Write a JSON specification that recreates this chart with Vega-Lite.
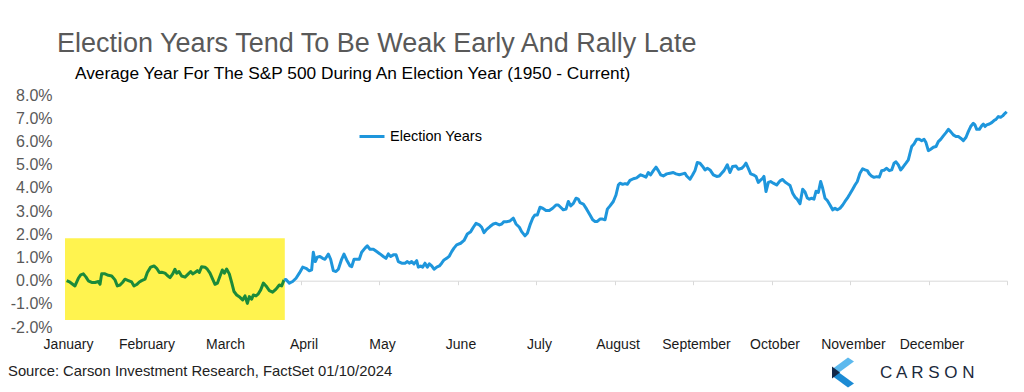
{
  "$schema": "https://vega.github.io/schema/vega-lite/v6.json",
  "width": 942,
  "height": 232,
  "autosize": {"type": "none"},
  "padding": {"left": 65, "top": 95, "right": 17, "bottom": 65},
  "background": "white",
  "config": {
    "view": {"stroke": null},
    "font": "Liberation Sans",
    "axisX": {
      "tickCount": 12,
      "labelExpr": "['January','February','March','April','May','June','July','August','September','October','November','December',''][round(datum.value)]",
      "offset": -46.3, "domainColor": "#d9d9d9", "tickColor": "#d9d9d9", "tickSize": 4,
      "labelPadding": 53, "labelFontSize": 14, "labelColor": "#1a1a1a", "labelFont": "Liberation Sans",
      "labelFlush": false, "labelOverlap": false, "labelBound": false, "labelOffset": 3, "grid": false
    },
    "axisY": {
      "tickCount": 10,
      "labelExpr": "(datum.value < 0 ? '-' : '') + format(abs(datum.value), '.1f') + '%'",
      "domain": false, "ticks": false, "grid": false, "labelPadding": 13, "labelOverlap": false, "labelBound": false,
      "labelFontSize": 16, "labelColor": "#595959", "labelFont": "Liberation Sans"
    }
  },
  "title": {
    "text": "Election Years Tend To Be Weak Early And Rally Late",
    "anchor": "start",
    "frame": "group",
    "dx": -8,
    "offset": 6.8,
    "font": "Liberation Sans",
    "fontSize": 27,
    "fontWeight": "normal",
    "color": "#595959"
  },
  "datasets": {
    "box": [{"start": 0, "end": 2.8, "low": -1.7, "high": 1.83}],
    "heading": [{"label": "Average Year For The S&P 500 During An Election Year (1950 - Current)"}],
    "notes": [{"label": "Source: Carson Investment Research, FactSet 01/10/2024"}],
    "brand": [{"label": "C A R S O N"}],
    "logo": [{"part": "upper"}, {"part": "lower"}, {"part": "tip"}],
    "series": [
      {"t":0.021,"v":0.00,"s":"Early"},{"t":0.064,"v":-0.07,"s":"Early"},{"t":0.127,"v":-0.23,"s":"Early"},{"t":0.170,"v":0.10,"s":"Early"},{"t":0.200,"v":0.25,"s":"Early"},{"t":0.234,"v":0.29,"s":"Early"},{"t":0.268,"v":0.15,"s":"Early"},{"t":0.297,"v":-0.01,"s":"Early"},{"t":0.340,"v":-0.08,"s":"Early"},{"t":0.382,"v":-0.08,"s":"Early"},{"t":0.425,"v":-0.04,"s":"Early"},{"t":0.446,"v":-0.16,"s":"Early"},{"t":0.467,"v":0.29,"s":"Early"},{"t":0.510,"v":0.29,"s":"Early"},{"t":0.552,"v":0.23,"s":"Early"},{"t":0.595,"v":0.20,"s":"Early"},{"t":0.637,"v":0.03,"s":"Early"},{"t":0.667,"v":-0.23,"s":"Early"},{"t":0.701,"v":-0.19,"s":"Early"},{"t":0.735,"v":-0.07,"s":"Early"},{"t":0.764,"v":0.06,"s":"Early"},{"t":0.807,"v":0.00,"s":"Early"},{"t":0.849,"v":-0.06,"s":"Early"},{"t":0.879,"v":-0.23,"s":"Early"},{"t":0.913,"v":-0.17,"s":"Early"},{"t":0.947,"v":-0.06,"s":"Early"},{"t":0.977,"v":0.00,"s":"Early"},{"t":1.019,"v":0.06,"s":"Early"},{"t":1.049,"v":0.35,"s":"Early"},{"t":1.091,"v":0.58,"s":"Early"},{"t":1.134,"v":0.63,"s":"Early"},{"t":1.168,"v":0.53,"s":"Early"},{"t":1.202,"v":0.35,"s":"Early"},{"t":1.231,"v":0.36,"s":"Early"},{"t":1.274,"v":0.32,"s":"Early"},{"t":1.304,"v":0.22,"s":"Early"},{"t":1.338,"v":0.13,"s":"Early"},{"t":1.372,"v":0.29,"s":"Early"},{"t":1.401,"v":0.49,"s":"Early"},{"t":1.423,"v":0.32,"s":"Early"},{"t":1.452,"v":0.39,"s":"Early"},{"t":1.486,"v":0.20,"s":"Early"},{"t":1.529,"v":0.15,"s":"Early"},{"t":1.571,"v":0.29,"s":"Early"},{"t":1.601,"v":0.39,"s":"Early"},{"t":1.626,"v":0.29,"s":"Early"},{"t":1.656,"v":0.35,"s":"Early"},{"t":1.686,"v":0.43,"s":"Early"},{"t":1.711,"v":0.35,"s":"Early"},{"t":1.741,"v":0.60,"s":"Early"},{"t":1.783,"v":0.58,"s":"Early"},{"t":1.813,"v":0.49,"s":"Early"},{"t":1.847,"v":0.32,"s":"Early"},{"t":1.881,"v":0.06,"s":"Early"},{"t":1.911,"v":-0.16,"s":"Early"},{"t":1.941,"v":-0.11,"s":"Early"},{"t":1.975,"v":0.20,"s":"Early"},{"t":2.004,"v":0.46,"s":"Early"},{"t":2.030,"v":0.32,"s":"Early"},{"t":2.059,"v":0.50,"s":"Early"},{"t":2.093,"v":0.29,"s":"Early"},{"t":2.123,"v":-0.08,"s":"Early"},{"t":2.153,"v":-0.47,"s":"Early"},{"t":2.187,"v":-0.62,"s":"Early"},{"t":2.229,"v":-0.72,"s":"Early"},{"t":2.263,"v":-0.83,"s":"Early"},{"t":2.293,"v":-0.66,"s":"Early"},{"t":2.323,"v":-0.98,"s":"Early"},{"t":2.348,"v":-0.69,"s":"Early"},{"t":2.378,"v":-0.80,"s":"Early"},{"t":2.399,"v":-0.62,"s":"Early"},{"t":2.433,"v":-0.66,"s":"Early"},{"t":2.463,"v":-0.57,"s":"Early"},{"t":2.493,"v":-0.40,"s":"Early"},{"t":2.527,"v":-0.11,"s":"Early"},{"t":2.561,"v":-0.23,"s":"Early"},{"t":2.603,"v":-0.43,"s":"Early"},{"t":2.645,"v":-0.50,"s":"Early"},{"t":2.688,"v":-0.37,"s":"Early"},{"t":2.730,"v":-0.19,"s":"Early"},{"t":2.760,"v":-0.23,"s":"Early"},{"t":2.790,"v":0.03,"s":"Early"},
      {"t":2.790,"v":0.03,"s":"Election Years"},{"t":2.815,"v":0.05,"s":"Election Years"},{"t":2.858,"v":-0.11,"s":"Election Years"},{"t":2.900,"v":-0.04,"s":"Election Years"},{"t":2.943,"v":0.10,"s":"Election Years"},{"t":2.985,"v":0.32,"s":"Election Years"},{"t":3.028,"v":0.58,"s":"Election Years"},{"t":3.070,"v":0.53,"s":"Election Years"},{"t":3.112,"v":0.42,"s":"Election Years"},{"t":3.142,"v":0.46,"s":"Election Years"},{"t":3.163,"v":1.22,"s":"Election Years"},{"t":3.189,"v":0.82,"s":"Election Years"},{"t":3.214,"v":1.01,"s":"Election Years"},{"t":3.248,"v":1.04,"s":"Election Years"},{"t":3.282,"v":0.96,"s":"Election Years"},{"t":3.312,"v":0.92,"s":"Election Years"},{"t":3.355,"v":1.14,"s":"Election Years"},{"t":3.384,"v":0.92,"s":"Election Years"},{"t":3.418,"v":0.43,"s":"Election Years"},{"t":3.452,"v":0.39,"s":"Election Years"},{"t":3.482,"v":0.49,"s":"Election Years"},{"t":3.524,"v":0.92,"s":"Election Years"},{"t":3.554,"v":1.14,"s":"Election Years"},{"t":3.588,"v":0.89,"s":"Election Years"},{"t":3.631,"v":0.63,"s":"Election Years"},{"t":3.652,"v":0.60,"s":"Election Years"},{"t":3.682,"v":0.92,"s":"Election Years"},{"t":3.716,"v":0.92,"s":"Election Years"},{"t":3.749,"v":0.92,"s":"Election Years"},{"t":3.779,"v":1.22,"s":"Election Years"},{"t":3.822,"v":1.40,"s":"Election Years"},{"t":3.851,"v":1.50,"s":"Election Years"},{"t":3.885,"v":1.35,"s":"Election Years"},{"t":3.928,"v":1.35,"s":"Election Years"},{"t":3.970,"v":1.25,"s":"Election Years"},{"t":4.013,"v":1.15,"s":"Election Years"},{"t":4.055,"v":1.04,"s":"Election Years"},{"t":4.089,"v":0.96,"s":"Election Years"},{"t":4.119,"v":1.15,"s":"Election Years"},{"t":4.149,"v":1.04,"s":"Election Years"},{"t":4.183,"v":1.11,"s":"Election Years"},{"t":4.217,"v":1.11,"s":"Election Years"},{"t":4.246,"v":0.82,"s":"Election Years"},{"t":4.289,"v":0.75,"s":"Election Years"},{"t":4.331,"v":0.75,"s":"Election Years"},{"t":4.361,"v":0.82,"s":"Election Years"},{"t":4.386,"v":0.75,"s":"Election Years"},{"t":4.416,"v":0.82,"s":"Election Years"},{"t":4.446,"v":0.72,"s":"Election Years"},{"t":4.480,"v":0.86,"s":"Election Years"},{"t":4.501,"v":0.58,"s":"Election Years"},{"t":4.531,"v":0.63,"s":"Election Years"},{"t":4.556,"v":0.58,"s":"Election Years"},{"t":4.586,"v":0.75,"s":"Election Years"},{"t":4.616,"v":0.58,"s":"Election Years"},{"t":4.641,"v":0.72,"s":"Election Years"},{"t":4.671,"v":0.63,"s":"Election Years"},{"t":4.701,"v":0.49,"s":"Election Years"},{"t":4.735,"v":0.58,"s":"Election Years"},{"t":4.769,"v":0.63,"s":"Election Years"},{"t":4.798,"v":0.75,"s":"Election Years"},{"t":4.828,"v":0.89,"s":"Election Years"},{"t":4.862,"v":0.96,"s":"Election Years"},{"t":4.896,"v":1.06,"s":"Election Years"},{"t":4.926,"v":1.25,"s":"Election Years"},{"t":4.955,"v":1.40,"s":"Election Years"},{"t":4.989,"v":1.54,"s":"Election Years"},{"t":5.040,"v":1.61,"s":"Election Years"},{"t":5.083,"v":1.73,"s":"Election Years"},{"t":5.125,"v":2.01,"s":"Election Years"},{"t":5.168,"v":2.11,"s":"Election Years"},{"t":5.202,"v":2.30,"s":"Election Years"},{"t":5.236,"v":2.47,"s":"Election Years"},{"t":5.278,"v":2.40,"s":"Election Years"},{"t":5.308,"v":2.30,"s":"Election Years"},{"t":5.338,"v":2.07,"s":"Election Years"},{"t":5.372,"v":2.21,"s":"Election Years"},{"t":5.414,"v":2.33,"s":"Election Years"},{"t":5.456,"v":2.44,"s":"Election Years"},{"t":5.490,"v":2.47,"s":"Election Years"},{"t":5.533,"v":2.40,"s":"Election Years"},{"t":5.563,"v":2.44,"s":"Election Years"},{"t":5.592,"v":2.54,"s":"Election Years"},{"t":5.626,"v":2.54,"s":"Election Years"},{"t":5.669,"v":2.57,"s":"Election Years"},{"t":5.711,"v":2.69,"s":"Election Years"},{"t":5.745,"v":2.44,"s":"Election Years"},{"t":5.788,"v":2.30,"s":"Election Years"},{"t":5.817,"v":2.11,"s":"Election Years"},{"t":5.860,"v":1.93,"s":"Election Years"},{"t":5.890,"v":2.04,"s":"Election Years"},{"t":5.924,"v":2.40,"s":"Election Years"},{"t":5.958,"v":2.69,"s":"Election Years"},{"t":5.987,"v":2.83,"s":"Election Years"},{"t":6.017,"v":2.83,"s":"Election Years"},{"t":6.051,"v":3.16,"s":"Election Years"},{"t":6.085,"v":3.12,"s":"Election Years"},{"t":6.127,"v":3.02,"s":"Election Years"},{"t":6.170,"v":3.02,"s":"Election Years"},{"t":6.212,"v":3.12,"s":"Election Years"},{"t":6.255,"v":3.26,"s":"Election Years"},{"t":6.284,"v":3.26,"s":"Election Years"},{"t":6.314,"v":3.16,"s":"Election Years"},{"t":6.348,"v":3.05,"s":"Election Years"},{"t":6.382,"v":3.08,"s":"Election Years"},{"t":6.412,"v":3.41,"s":"Election Years"},{"t":6.442,"v":3.22,"s":"Election Years"},{"t":6.476,"v":3.33,"s":"Election Years"},{"t":6.510,"v":3.55,"s":"Election Years"},{"t":6.539,"v":3.51,"s":"Election Years"},{"t":6.561,"v":3.36,"s":"Election Years"},{"t":6.603,"v":3.30,"s":"Election Years"},{"t":6.645,"v":3.08,"s":"Election Years"},{"t":6.688,"v":2.83,"s":"Election Years"},{"t":6.722,"v":2.62,"s":"Election Years"},{"t":6.752,"v":2.55,"s":"Election Years"},{"t":6.781,"v":2.55,"s":"Election Years"},{"t":6.815,"v":2.65,"s":"Election Years"},{"t":6.849,"v":2.65,"s":"Election Years"},{"t":6.879,"v":2.62,"s":"Election Years"},{"t":6.909,"v":3.08,"s":"Election Years"},{"t":6.943,"v":3.22,"s":"Election Years"},{"t":6.985,"v":3.41,"s":"Election Years"},{"t":7.019,"v":3.69,"s":"Election Years"},{"t":7.049,"v":4.12,"s":"Election Years"},{"t":7.070,"v":4.20,"s":"Election Years"},{"t":7.104,"v":4.15,"s":"Election Years"},{"t":7.134,"v":4.18,"s":"Election Years"},{"t":7.163,"v":4.15,"s":"Election Years"},{"t":7.197,"v":4.32,"s":"Election Years"},{"t":7.240,"v":4.39,"s":"Election Years"},{"t":7.282,"v":4.43,"s":"Election Years"},{"t":7.316,"v":4.52,"s":"Election Years"},{"t":7.333,"v":4.56,"s":"Election Years"},{"t":7.367,"v":4.51,"s":"Election Years"},{"t":7.401,"v":4.46,"s":"Election Years"},{"t":7.431,"v":4.66,"s":"Election Years"},{"t":7.461,"v":4.56,"s":"Election Years"},{"t":7.495,"v":4.74,"s":"Election Years"},{"t":7.529,"v":4.89,"s":"Election Years"},{"t":7.558,"v":4.74,"s":"Election Years"},{"t":7.588,"v":4.56,"s":"Election Years"},{"t":7.622,"v":4.51,"s":"Election Years"},{"t":7.665,"v":4.60,"s":"Election Years"},{"t":7.707,"v":4.63,"s":"Election Years"},{"t":7.749,"v":4.66,"s":"Election Years"},{"t":7.783,"v":4.60,"s":"Election Years"},{"t":7.826,"v":4.56,"s":"Election Years"},{"t":7.868,"v":4.60,"s":"Election Years"},{"t":7.898,"v":4.63,"s":"Election Years"},{"t":7.919,"v":4.51,"s":"Election Years"},{"t":7.962,"v":4.37,"s":"Election Years"},{"t":7.996,"v":4.56,"s":"Election Years"},{"t":8.025,"v":4.74,"s":"Election Years"},{"t":8.055,"v":5.09,"s":"Election Years"},{"t":8.089,"v":5.06,"s":"Election Years"},{"t":8.123,"v":4.92,"s":"Election Years"},{"t":8.153,"v":4.77,"s":"Election Years"},{"t":8.183,"v":4.84,"s":"Election Years"},{"t":8.217,"v":4.77,"s":"Election Years"},{"t":8.259,"v":4.56,"s":"Election Years"},{"t":8.302,"v":4.49,"s":"Election Years"},{"t":8.335,"v":4.51,"s":"Election Years"},{"t":8.365,"v":4.63,"s":"Election Years"},{"t":8.395,"v":4.74,"s":"Election Years"},{"t":8.437,"v":4.99,"s":"Election Years"},{"t":8.471,"v":4.66,"s":"Election Years"},{"t":8.505,"v":4.92,"s":"Election Years"},{"t":8.548,"v":4.94,"s":"Election Years"},{"t":8.577,"v":4.80,"s":"Election Years"},{"t":8.620,"v":4.84,"s":"Election Years"},{"t":8.650,"v":4.94,"s":"Election Years"},{"t":8.675,"v":5.06,"s":"Election Years"},{"t":8.705,"v":4.84,"s":"Election Years"},{"t":8.735,"v":4.60,"s":"Election Years"},{"t":8.769,"v":4.56,"s":"Election Years"},{"t":8.803,"v":4.49,"s":"Election Years"},{"t":8.832,"v":4.23,"s":"Election Years"},{"t":8.854,"v":4.31,"s":"Election Years"},{"t":8.887,"v":4.41,"s":"Election Years"},{"t":8.904,"v":4.49,"s":"Election Years"},{"t":8.930,"v":3.84,"s":"Election Years"},{"t":8.960,"v":4.23,"s":"Election Years"},{"t":8.989,"v":4.27,"s":"Election Years"},{"t":9.023,"v":4.20,"s":"Election Years"},{"t":9.066,"v":4.12,"s":"Election Years"},{"t":9.108,"v":4.30,"s":"Election Years"},{"t":9.142,"v":4.36,"s":"Election Years"},{"t":9.172,"v":4.25,"s":"Election Years"},{"t":9.202,"v":4.18,"s":"Election Years"},{"t":9.236,"v":4.10,"s":"Election Years"},{"t":9.270,"v":3.77,"s":"Election Years"},{"t":9.299,"v":3.60,"s":"Election Years"},{"t":9.329,"v":3.50,"s":"Election Years"},{"t":9.363,"v":3.31,"s":"Election Years"},{"t":9.397,"v":3.94,"s":"Election Years"},{"t":9.427,"v":3.82,"s":"Election Years"},{"t":9.456,"v":3.56,"s":"Election Years"},{"t":9.482,"v":3.51,"s":"Election Years"},{"t":9.512,"v":3.55,"s":"Election Years"},{"t":9.541,"v":3.51,"s":"Election Years"},{"t":9.567,"v":3.85,"s":"Election Years"},{"t":9.597,"v":3.80,"s":"Election Years"},{"t":9.626,"v":4.27,"s":"Election Years"},{"t":9.652,"v":3.98,"s":"Election Years"},{"t":9.682,"v":3.55,"s":"Election Years"},{"t":9.711,"v":3.45,"s":"Election Years"},{"t":9.745,"v":3.26,"s":"Election Years"},{"t":9.779,"v":3.05,"s":"Election Years"},{"t":9.809,"v":3.12,"s":"Election Years"},{"t":9.839,"v":3.05,"s":"Election Years"},{"t":9.873,"v":3.12,"s":"Election Years"},{"t":9.907,"v":3.26,"s":"Election Years"},{"t":9.936,"v":3.41,"s":"Election Years"},{"t":9.966,"v":3.55,"s":"Election Years"},{"t":10.000,"v":3.74,"s":"Election Years"},{"t":10.034,"v":3.94,"s":"Election Years"},{"t":10.064,"v":4.12,"s":"Election Years"},{"t":10.093,"v":4.27,"s":"Election Years"},{"t":10.127,"v":4.63,"s":"Election Years"},{"t":10.161,"v":4.82,"s":"Election Years"},{"t":10.191,"v":4.77,"s":"Election Years"},{"t":10.221,"v":4.74,"s":"Election Years"},{"t":10.246,"v":4.60,"s":"Election Years"},{"t":10.276,"v":4.50,"s":"Election Years"},{"t":10.306,"v":4.45,"s":"Election Years"},{"t":10.340,"v":4.48,"s":"Election Years"},{"t":10.374,"v":4.46,"s":"Election Years"},{"t":10.403,"v":4.74,"s":"Election Years"},{"t":10.433,"v":4.76,"s":"Election Years"},{"t":10.467,"v":4.84,"s":"Election Years"},{"t":10.501,"v":4.74,"s":"Election Years"},{"t":10.531,"v":4.77,"s":"Election Years"},{"t":10.561,"v":5.06,"s":"Election Years"},{"t":10.586,"v":5.12,"s":"Election Years"},{"t":10.616,"v":4.99,"s":"Election Years"},{"t":10.645,"v":4.77,"s":"Election Years"},{"t":10.679,"v":4.91,"s":"Election Years"},{"t":10.713,"v":5.06,"s":"Election Years"},{"t":10.743,"v":5.20,"s":"Election Years"},{"t":10.764,"v":5.49,"s":"Election Years"},{"t":10.786,"v":5.78,"s":"Election Years"},{"t":10.815,"v":5.89,"s":"Election Years"},{"t":10.849,"v":6.09,"s":"Election Years"},{"t":10.883,"v":6.09,"s":"Election Years"},{"t":10.913,"v":6.03,"s":"Election Years"},{"t":10.943,"v":6.09,"s":"Election Years"},{"t":10.968,"v":5.95,"s":"Election Years"},{"t":10.998,"v":5.60,"s":"Election Years"},{"t":11.028,"v":5.66,"s":"Election Years"},{"t":11.062,"v":5.75,"s":"Election Years"},{"t":11.096,"v":5.78,"s":"Election Years"},{"t":11.125,"v":5.99,"s":"Election Years"},{"t":11.155,"v":6.09,"s":"Election Years"},{"t":11.189,"v":6.24,"s":"Election Years"},{"t":11.223,"v":6.38,"s":"Election Years"},{"t":11.253,"v":6.52,"s":"Election Years"},{"t":11.282,"v":6.42,"s":"Election Years"},{"t":11.316,"v":6.28,"s":"Election Years"},{"t":11.350,"v":6.21,"s":"Election Years"},{"t":11.380,"v":6.21,"s":"Election Years"},{"t":11.410,"v":6.14,"s":"Election Years"},{"t":11.444,"v":6.03,"s":"Election Years"},{"t":11.478,"v":6.18,"s":"Election Years"},{"t":11.507,"v":6.42,"s":"Election Years"},{"t":11.537,"v":6.64,"s":"Election Years"},{"t":11.571,"v":6.78,"s":"Election Years"},{"t":11.592,"v":6.71,"s":"Election Years"},{"t":11.614,"v":6.52,"s":"Election Years"},{"t":11.648,"v":6.52,"s":"Election Years"},{"t":11.677,"v":6.67,"s":"Election Years"},{"t":11.699,"v":6.75,"s":"Election Years"},{"t":11.720,"v":6.64,"s":"Election Years"},{"t":11.741,"v":6.71,"s":"Election Years"},{"t":11.775,"v":6.75,"s":"Election Years"},{"t":11.805,"v":6.81,"s":"Election Years"},{"t":11.834,"v":6.90,"s":"Election Years"},{"t":11.860,"v":6.95,"s":"Election Years"},{"t":11.890,"v":7.07,"s":"Election Years"},{"t":11.919,"v":7.04,"s":"Election Years"},{"t":11.945,"v":7.10,"s":"Election Years"},{"t":11.975,"v":7.21,"s":"Election Years"},{"t":11.996,"v":7.28,"s":"Election Years"}
    ]
  },
  "layer": [
    {
      "data": {"name": "box"},
      "mark": {"type": "rect", "color": "#FFF34F"},
      "encoding": {
        "x": {"field": "start", "type": "quantitative", "title": null, "scale": {"domain": [0, 12], "nice": false, "zero": false}},
        "x2": {"field": "end"},
        "y": {"field": "low", "type": "quantitative", "title": null, "scale": {"domain": [-2, 8], "nice": false, "zero": false}},
        "y2": {"field": "high"}
      }
    },
    {
      "data": {"name": "series"},
      "mark": {"type": "line", "strokeWidth": 3, "strokeJoin": "round"},
      "encoding": {
        "x": {"field": "t", "type": "quantitative", "title": null, "scale": {"domain": [0, 12], "nice": false, "zero": false}},
        "y": {"field": "v", "type": "quantitative", "title": null, "scale": {"domain": [-2, 8], "nice": false, "zero": false}},
        "color": {
          "field": "s", "type": "nominal",
          "scale": {"domain": ["Early", "Election Years"], "range": ["#1B8A3A", "#1E96DC"]},
          "legend": {
            "values": ["Election Years"], "title": null, "orient": "none",
            "legendX": 293, "legendY": 27.5, "padding": 0,
            "symbolType": "stroke", "symbolStrokeWidth": 3, "symbolSize": 625,
            "labelFontSize": 14.5, "labelFont": "Liberation Sans", "labelColor": "#000000"
          }
        }
      }
    },
    {
      "data": {"name": "heading"},
      "mark": {"type": "text", "align": "left", "baseline": "alphabetic", "fontSize": 17.3, "font": "Liberation Sans", "color": "#000000"},
      "encoding": {
        "x": {"datum": 0.127, "type": "quantitative", "title": null, "scale": {"domain": [0, 12], "nice": false, "zero": false}},
        "y": {"datum": 8.694, "type": "quantitative", "title": null, "scale": {"domain": [-2, 8], "nice": false, "zero": false}},
        "text": {"field": "label"}
      }
    },
    {
      "data": {"name": "notes"},
      "mark": {"type": "text", "align": "left", "baseline": "alphabetic", "fontSize": 14.8, "font": "Liberation Sans", "color": "#222222"},
      "encoding": {
        "x": {"datum": -0.726, "type": "quantitative", "title": null, "scale": {"domain": [0, 12], "nice": false, "zero": false}},
        "y": {"datum": -4.108, "type": "quantitative", "title": null, "scale": {"domain": [-2, 8], "nice": false, "zero": false}},
        "text": {"field": "label"}
      }
    },
    {
      "data": {"name": "brand"},
      "mark": {"type": "text", "align": "left", "baseline": "middle", "fontSize": 17, "font": "Liberation Sans", "color": "#1B2A3C"},
      "encoding": {
        "x": {"datum": 10.382, "type": "quantitative", "title": null, "scale": {"domain": [0, 12], "nice": false, "zero": false}},
        "y": {"datum": -3.978, "type": "quantitative", "title": null, "scale": {"domain": [-2, 8], "nice": false, "zero": false}},
        "text": {"field": "label"}
      }
    },
    {
      "data": {"name": "logo"},
      "mark": {"type": "point", "filled": true, "size": 900, "opacity": 1, "strokeWidth": 0},
      "encoding": {
        "x": {"datum": 9.917, "type": "quantitative", "title": null, "scale": {"domain": [0, 12], "nice": false, "zero": false}},
        "y": {"datum": -3.957, "type": "quantitative", "title": null, "scale": {"domain": [-2, 8], "nice": false, "zero": false}},
        "shape": {
          "field": "part", "type": "nominal", "legend": null,
          "scale": {"domain": ["upper", "lower", "tip"], "range": ["M0.3,-1L0.7,-0.733L-0.3,0L-0.7,-0.267Z", "M-0.7,0.267L-0.3,0L0.7,0.733L0.3,1Z", "M-0.767,-0.4L-0.233,0L-0.767,0.4Z"]}
        },
        "fill": {
          "field": "part", "type": "nominal", "legend": null,
          "scale": {"domain": ["upper", "lower", "tip"], "range": ["#5CB9EE", "#1C8BD4", "#14294A"]}
        }
      }
    }
  ]
}
